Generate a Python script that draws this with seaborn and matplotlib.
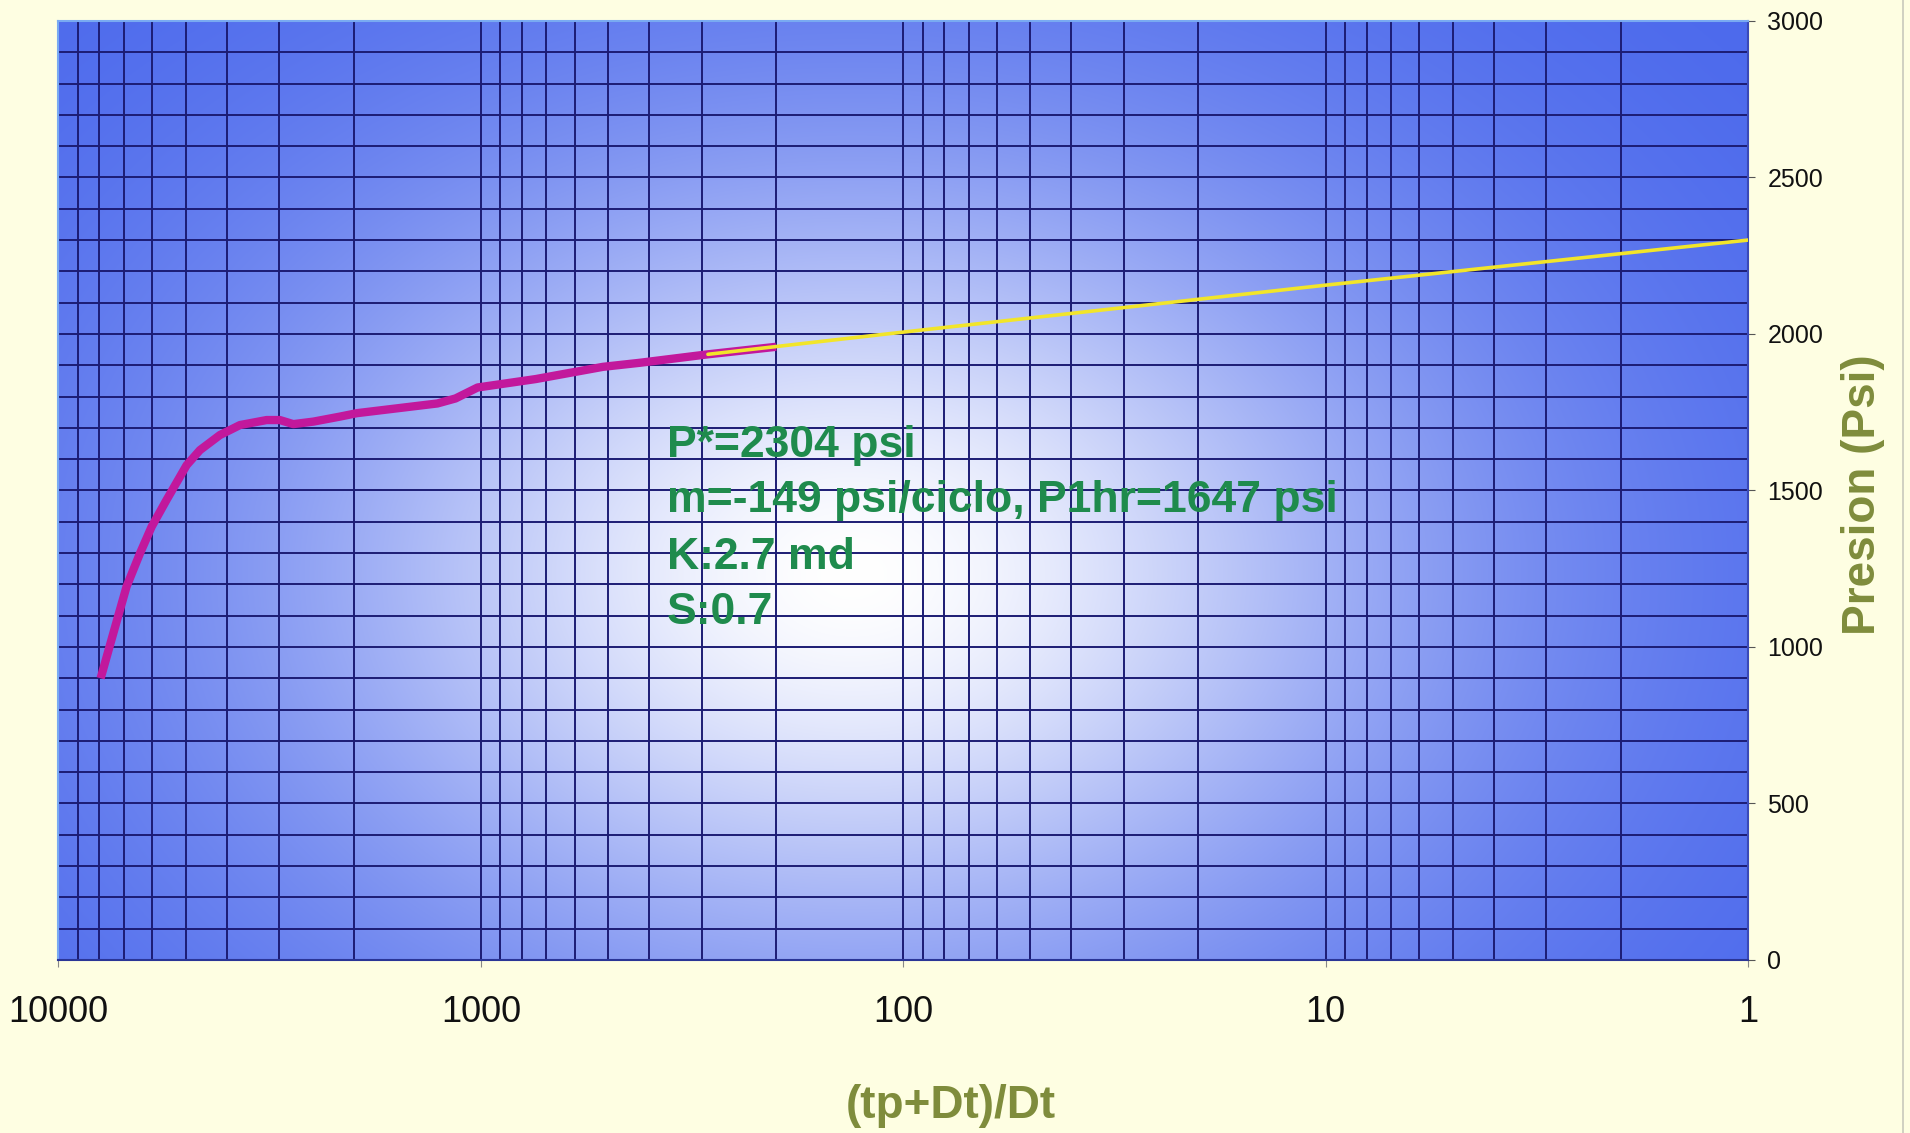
import numpy as np
import matplotlib
matplotlib.use("Agg")
import matplotlib.pyplot as plt
import seaborn as sns
from matplotlib import font_manager
from matplotlib.colors import to_rgb
from matplotlib.lines import Line2D
from matplotlib.ticker import FixedLocator, MultipleLocator, NullFormatter, LogLocator

# datos (Horner)
horner_x = [7945, 7415, 6898, 6412, 6018, 5546, 4971, 4624, 4148, 3718, 3215, 2991,
            2780, 2492, 2156, 1965, 1267, 1148, 1018, 741, 514, 420, 290, 200]
horner_p = [900, 1044, 1193, 1299, 1384, 1470, 1581, 1629, 1677, 1709, 1725, 1725,
            1712, 1720, 1736, 1747, 1778, 1794, 1829, 1856, 1895, 1908, 1935, 1959]

recta_x = [290, 100, 10, 1]
recta_p = [1935, 2006, 2156, 2300]

xticks = [10000, 1000, 100, 10, 1]
xtick_labels = ["10000", "1000", "100", "10", "1"]
yticks = [0, 500, 1000, 1500, 2000, 2500, 3000]

notas = ["P*=2304 psi", "m=-149 psi/ciclo, P1hr=1647 psi", "K:2.7 md", "S:0.7"]

sns.set_style("ticks")
plt.rcParams['font.family'] = ['Liberation Sans', 'DejaVu Sans']

nombres = {f.name for f in font_manager.fontManager.ttflist}
if 'Liberation Sans Narrow' in nombres:
    fuente_nota, tam_nota = 'Liberation Sans Narrow', 39
else:
    fuente_nota, tam_nota = 'Liberation Sans', 32

fig = plt.figure(figsize=(19.10, 11.33), dpi=100, facecolor='#fefee2')
ax = fig.add_axes([0.0306, 0.1527, 0.8846, 0.8288])

ax.set_xscale('log')
ax.set_xlim(10000, 1)
ax.set_ylim(0, 3000)
ax.set_autoscale_on(False)

# fondo degradado radial
gy, gx = np.mgrid[0:1:400j, 0:1:700j]
w = np.exp(-(((gx - 0.47) / 0.34) ** 2 + ((gy - 0.41) / 0.44) ** 2) ** 0.9)
azul = np.array(to_rgb('#4866ec'))
blanco = np.array([1.0, 1.0, 1.0])
img = azul + (blanco - azul) * w[..., None]
ax.imshow(img, extent=[0, 1, 0, 1], transform=ax.transAxes, origin='lower',
          aspect='auto', zorder=0, interpolation='bilinear')

sns.lineplot(x=horner_x, y=horner_p, ax=ax, color='#c2189c', linewidth=6,
             sort=False, estimator=None, zorder=3, solid_capstyle='butt')
sns.lineplot(x=recta_x, y=recta_p, ax=ax, color='#f2e52a', linewidth=2.6,
             sort=False, estimator=None, zorder=4)

ax.set_xscale('log')
ax.set_xlim(10000, 1)
ax.set_ylim(0, 3000)

ax.xaxis.set_major_locator(FixedLocator(xticks))
ax.set_xticklabels(xtick_labels)
ax.xaxis.set_minor_locator(LogLocator(base=10, subs=np.arange(2, 10)))
ax.xaxis.set_minor_formatter(NullFormatter())
ax.yaxis.set_major_locator(FixedLocator(yticks))
ax.yaxis.set_minor_locator(MultipleLocator(100))

ax.grid(which='both', color='#1c1c74', linewidth=1.4, zorder=1)
ax.yaxis.tick_right()
ax.yaxis.set_label_position('right')

ax.tick_params(axis='x', which='major', labelsize=26, length=5, pad=20,
               color='#888888', labelcolor='#111111')
ax.tick_params(axis='y', which='major', labelsize=18, length=5, pad=9,
               color='#555555', labelcolor='#111111')
ax.tick_params(which='minor', length=0)

ax.set_xlabel("(tp+Dt)/Dt", fontsize=33, fontweight='bold', color='#7f8c3c',
              va='center', ha='center')
ax.xaxis.set_label_coords(0.528, -0.155)
ax.set_ylabel("Presion (Psi)", fontsize=33, fontweight='bold', color='#7f8c3c',
              rotation=90, va='center', ha='center')
ax.yaxis.set_label_coords(1.068, 0.495)

for lado, col in [('left', '#79aaf2'), ('top', '#79aaf2'),
                  ('bottom', '#2a3596'), ('right', '#3a4ab8')]:
    ax.spines[lado].set_color(col)
    ax.spines[lado].set_linewidth(1.5)

ys = [0.548, 0.489, 0.429, 0.370]
for texto, yy in zip(notas, ys):
    ax.text(0.360, yy, texto, transform=ax.transAxes, fontsize=tam_nota,
            fontweight='bold', color='#1f8b4d', family=fuente_nota,
            va='center', ha='left', zorder=5)

fig.add_artist(Line2D([0.9963, 0.9963], [0.0, 1.0], transform=fig.transFigure,
                      color='#c9c9bc', linewidth=1.2))

fig.savefig("out.png", dpi=100, facecolor=fig.get_facecolor())
